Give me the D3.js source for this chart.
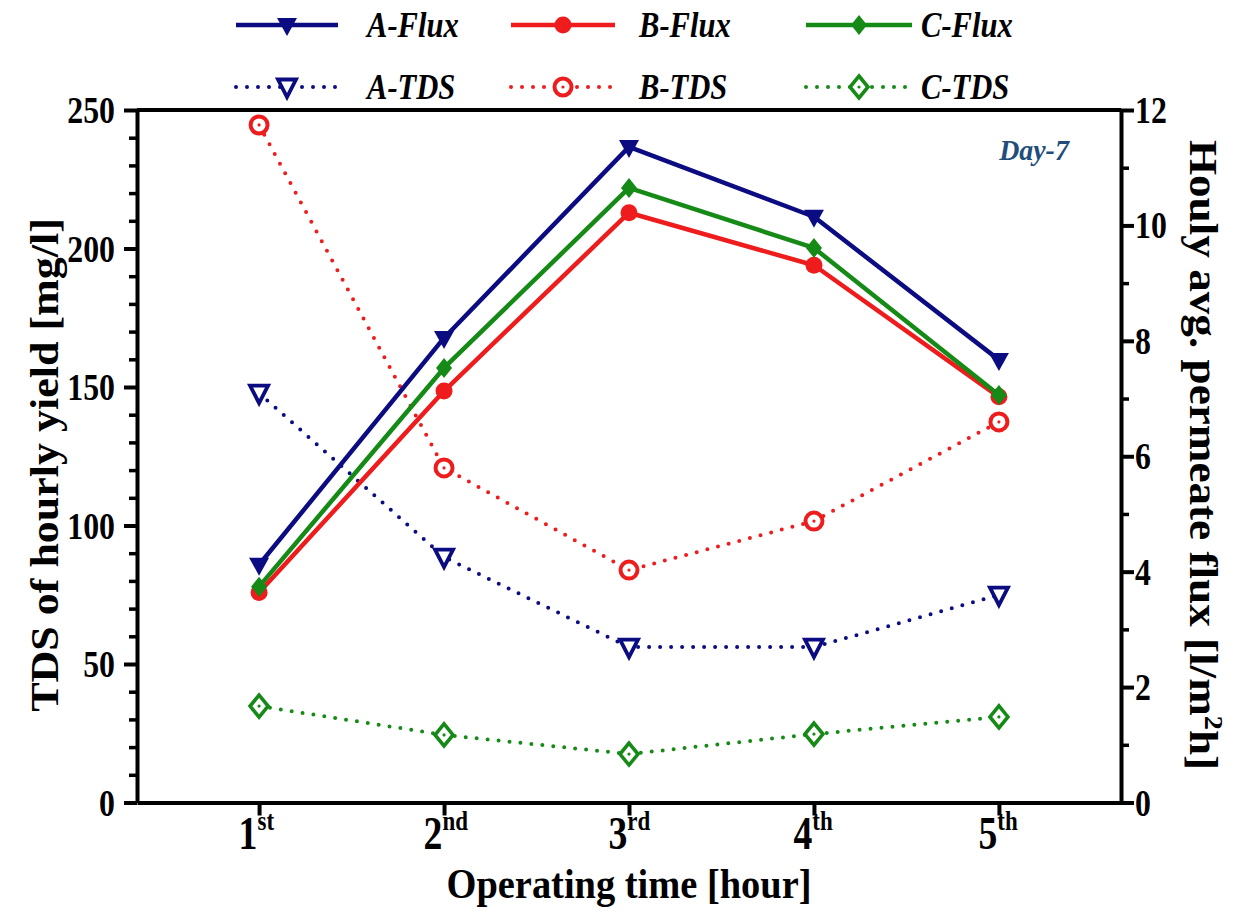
<!DOCTYPE html>
<html>
<head>
<meta charset="utf-8">
<script src="https://cdn.jsdelivr.net/npm/d3@7"></script>
<style>
  html, body { margin: 0; padding: 0; background: #fff; }
  svg { display: block; }
  text { font-family: "Liberation Serif", "Times New Roman", serif; font-weight: bold; fill: #000; }
</style>
</head>
<body>
<svg id="chart" width="1252" height="921"></svg>
<script>
// Operating hours and their ordinal labels
const hours = [1, 2, 3, 4, 5];
const hourNumbers = ["1", "2", "3", "4", "5"];
const hourSuffixes = ["st", "nd", "rd", "th", "th"];

// Hourly average permeate flux [l/m2h] (right axis)
const fluxA = [4.12, 8.05, 11.36, 10.15, 7.67];
const fluxB = [3.64, 7.13, 10.22, 9.31, 7.03];
const fluxC = [3.74, 7.53, 10.65, 9.61, 7.06];

// TDS of hourly yield [mg/l] (left axis)
const tdsA = [147.8, 88.6, 56.1, 56.1, 74.9];
const tdsB = [244.6, 120.8, 83.9, 101.6, 137.4];
const tdsC = [34.8, 24.4, 17.5, 24.7, 30.9];

// Axis ticks
const tdsTicks = [0, 50, 100, 150, 200, 250];
const tdsMinorTicks = [10, 20, 30, 40, 60, 70, 80, 90, 110, 120, 130, 140, 160, 170, 180, 190, 210, 220, 230, 240];
const fluxTicks = [0, 2, 4, 6, 8, 10, 12];
const fluxMinorTicks = [1, 3, 5, 7, 9, 11];

const COL_A = "#0c0c82";
const COL_B = "#ee1c1c";
const COL_C = "#168a16";
const SX = 0.88; // condensed serif look

const svg = d3.select("#chart");

const plotLeft = 137, plotRight = 1121, plotTop = 110, plotBottom = 802.5;

const x = d3.scaleLinear().domain([0.34, 5.66]).range([plotLeft, plotRight]);
const yL = d3.scaleLinear().domain([0, 250]).range([plotBottom, plotTop]);
const yR = d3.scaleLinear().domain([0, 12]).range([plotBottom, plotTop]);

// condensed text helper
function label(parent, px, py, str, opts = {}) {
  const t = parent.append("text")
    .attr("transform", `translate(${px},${py}) scale(${opts.sx || SX},1)`)
    .attr("text-anchor", opts.anchor || "middle")
    .style("font-size", (opts.size || 32) + "px")
    .text(str);
  if (opts.italic) t.style("font-style", "italic");
  if (opts.fill) t.style("fill", opts.fill);
  return t;
}

// ---- Axes ----
const axW = 4;

// top frame line
svg.append("line")
  .attr("x1", plotLeft).attr("x2", plotRight)
  .attr("y1", plotTop).attr("y2", plotTop)
  .attr("stroke", "#000").attr("stroke-width", axW);

// left axis: minor then major
const gLm = svg.append("g").attr("transform", `translate(${plotLeft},0)`)
  .call(d3.axisLeft(yL).tickValues(tdsMinorTicks).tickSize(8).tickSizeOuter(0).tickFormat(""));
gLm.select(".domain").remove();
gLm.selectAll(".tick line").attr("stroke-width", 3.5);

const gL = svg.append("g").attr("transform", `translate(${plotLeft},0)`)
  .call(d3.axisLeft(yL).tickValues(tdsTicks).tickSize(13).tickSizeOuter(0).tickFormat(d3.format("d")));
gL.select(".domain").attr("stroke-width", axW);
gL.selectAll(".tick line").attr("stroke-width", 4);
gL.selectAll(".tick text")
  .attr("font-family", null).attr("font-size", null)
  .style("font-size", "37px")
  .attr("dy", "0.34em")
  .attr("x", -22 / 0.86)
  .attr("transform", "scale(0.86,1)");

// right axis
const gRm = svg.append("g").attr("transform", `translate(${plotRight},0)`)
  .call(d3.axisRight(yR).tickValues(fluxMinorTicks).tickSize(8).tickSizeOuter(0).tickFormat(""));
gRm.select(".domain").remove();
gRm.selectAll(".tick line").attr("stroke-width", 3.5);

const gR = svg.append("g").attr("transform", `translate(${plotRight},0)`)
  .call(d3.axisRight(yR).tickValues(fluxTicks).tickSize(13).tickSizeOuter(0).tickFormat(d3.format("d")));
gR.select(".domain").attr("stroke-width", axW);
gR.selectAll(".tick line").attr("stroke-width", 4);
gR.selectAll(".tick text")
  .attr("font-family", null).attr("font-size", null)
  .style("font-size", "37px")
  .attr("dy", "0.34em")
  .attr("x", 14 / 0.86)
  .attr("transform", "scale(0.86,1)");

// bottom axis with ordinal superscripts
const TX = 0.82;
const gB = svg.append("g").attr("transform", `translate(0,${plotBottom})`)
  .call(d3.axisBottom(x).tickValues(hours).tickSize(13).tickSizeOuter(0)
    .tickFormat((d, i) => hourNumbers[i]));
gB.select(".domain").attr("stroke-width", axW);
gB.selectAll(".tick line").attr("stroke-width", 4);
gB.selectAll(".tick text")
  .attr("font-family", null).attr("font-size", null)
  .style("font-size", "46px")
  .attr("dy", null)
  .attr("y", 47)
  .attr("text-anchor", "start")
  .attr("x", -21 / TX)
  .attr("transform", `scale(${TX},1)`)
  .each(function (d, i) {
    d3.select(this).append("tspan")
      .attr("dy", -19)
      .style("font-size", "28px")
      .text(hourSuffixes[i]);
  });

// axis titles
label(svg, 629, 898, "Operating time [hour]", { size: 42, sx: 0.915 });
label(svg.append("g").attr("transform", "translate(58,465) rotate(-90)"), 0, 0,
  "TDS of hourly yield [mg/l]", { size: 40, sx: 1.1 });
const rt = svg.append("g").attr("transform", "translate(1190,455) rotate(90)");
const rtText = label(rt, 0, 0, "Houly avg. permeate flux [l/m", { size: 40, sx: 1.13 });
rtText.append("tspan").attr("dy", -15).style("font-size", "25px").text("2");
rtText.append("tspan").attr("dy", 15).text("h]");

// Day label
label(svg, 1034, 160, "Day-7", { size: 30, italic: true, fill: "#1f4e7a", sx: 0.93 });

// ---- Markers ----
const markers = {
  triFill: (g, c) => g.append("path").attr("d", "M-10,-7 L10,-7 L0,11 Z").attr("fill", c),
  circFill: (g, c) => g.append("circle").attr("r", 8.5).attr("fill", c),
  diaFill: (g, c) => g.append("path").attr("d", "M0,-10 L8,0 L0,10 L-8,0 Z").attr("fill", c),
  triOpen: (g, c) => g.append("path").attr("d", "M-9,-7.5 L9,-7.5 L0,10 Z")
    .attr("fill", "#fff").attr("stroke", c).attr("stroke-width", 3.8).attr("stroke-linejoin", "miter"),
  circOpen: (g, c) => {
    g.append("circle").attr("r", 8.5).attr("fill", "#fff").attr("stroke", c).attr("stroke-width", 4);
    g.append("circle").attr("r", 1.6).attr("fill", c);
  },
  diaOpen: (g, c) => {
    g.append("path").attr("d", "M0,-11 L9,0 L0,11 L-9,0 Z")
      .attr("fill", "#fff").attr("stroke", c).attr("stroke-width", 3.6);
    g.append("circle").attr("r", 1.6).attr("fill", c);
  }
};

const series = [
  { name: "A-TDS", values: tdsA, scale: yL, color: COL_A, dotted: true, marker: "triOpen" },
  { name: "B-TDS", values: tdsB, scale: yL, color: COL_B, dotted: true, marker: "circOpen" },
  { name: "C-TDS", values: tdsC, scale: yL, color: COL_C, dotted: true, marker: "diaOpen" },
  { name: "A-Flux", values: fluxA, scale: yR, color: COL_A, dotted: false, marker: "triFill" },
  { name: "B-Flux", values: fluxB, scale: yR, color: COL_B, dotted: false, marker: "circFill" },
  { name: "C-Flux", values: fluxC, scale: yR, color: COL_C, dotted: false, marker: "diaFill" }
];

function styleLine(sel, s) {
  sel.attr("fill", "none").attr("stroke", s.color);
  if (s.dotted) {
    sel.attr("stroke-width", 4).attr("stroke-dasharray", "0 11").attr("stroke-linecap", "round");
  } else {
    sel.attr("stroke-width", 4.5).attr("stroke-linejoin", "round");
  }
}

const plot = svg.append("g");
series.forEach(s => {
  const line = d3.line().x((d, i) => x(hours[i])).y(d => s.scale(d));
  const g = plot.append("g");
  styleLine(g.append("path").datum(s.values).attr("d", line), s);
  s.values.forEach((v, i) => {
    const mg = g.append("g").attr("transform", `translate(${x(hours[i])},${s.scale(v)})`);
    markers[s.marker](mg, s.color);
  });
});

// ---- Legend ----
const legendRows = [
  { y: 25, items: [series[3], series[4], series[5]] },
  { y: 87, items: [series[0], series[1], series[2]] }
];
const legendCols = [
  { x0: 236, x1: 338, tx: 367 },
  { x0: 511, x1: 615, tx: 639 },
  { x0: 806, x1: 912, tx: 921 }
];
const leg = svg.append("g");
legendRows.forEach(row => {
  row.items.forEach((s, j) => {
    const c = legendCols[j];
    styleLine(leg.append("line")
      .attr("x1", c.x0).attr("x2", c.x1).attr("y1", row.y).attr("y2", row.y), s);
    const mg = leg.append("g").attr("transform", `translate(${(c.x0 + c.x1) / 2},${row.y})`);
    markers[s.marker](mg, s.color);
    label(leg, c.tx, row.y + 12, s.name, { size: 36, italic: true, anchor: "start", sx: 0.85 });
  });
});
</script>
</body>
</html>
